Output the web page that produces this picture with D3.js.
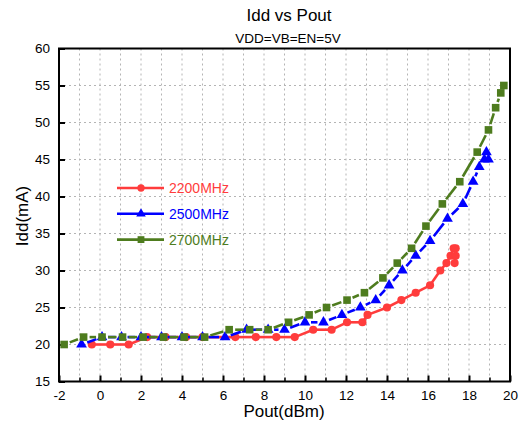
<!DOCTYPE html>
<html><head><meta charset="utf-8">
<script src="https://cdn.jsdelivr.net/npm/d3@7"></script>
<style>
body{margin:0;background:#fff;}
svg{display:block;font-family:"Liberation Sans",Arial,sans-serif;}
</style></head>
<body><svg id="c" width="521" height="427"></svg>
<script>
const title = "Idd vs Pout";
const subtitle = "VDD=VB=EN=5V";
const xLabel = "Pout(dBm)";
const yLabel = "Idd(mA)";
const seriesNames = ["2200MHz", "2500MHz", "2700MHz"];
const seriesColors = ["#ff3c3c", "#0000ff", "#4e7c1e"];
const xTickValues = [-2, 0, 2, 4, 6, 8, 10, 12, 14, 16, 18, 20];
const yTickValues = [15, 20, 25, 30, 35, 40, 45, 50, 55, 60];

const redX = [-0.4, 0.5, 1.4, 2.3, 3.2, 4.2, 5.0, 6.6, 7.6, 8.6, 9.5, 10.4, 11.3, 12.05, 12.8, 13.05, 14.0, 14.7, 15.4, 16.1, 16.6, 16.9, 17.1, 17.25, 17.35, 17.35, 17.3];
const redY = [20, 20, 20, 21, 21, 21, 21, 21, 21, 21, 21, 22, 22, 23, 23, 24, 25, 26, 27, 28, 30, 31, 32, 33, 33, 32, 31];
const blueX = [-0.9, 0.1, 1.05, 2.0, 3.0, 4.0, 5.0, 6.1, 7.15, 8.2, 9.0, 10.0, 10.9, 11.8, 12.7, 13.45, 14.1, 14.75, 15.4, 16.1, 16.95, 17.7, 18.2, 18.5, 18.75, 18.85, 18.95];
const blueY = [20, 21, 21, 21, 21, 21, 21, 21, 22, 22, 22, 23, 23, 24, 25, 26, 28, 30, 32, 34, 37, 39, 42, 44, 45, 46, 45];
const greenX = [-1.75, -0.8, 0.1, 1.1, 2.1, 3.1, 4.1, 5.1, 6.3, 7.3, 8.2, 9.2, 10.2, 11.05, 12.05, 12.9, 13.8, 14.5, 15.2, 15.9, 16.7, 17.55, 18.4, 18.95, 19.3, 19.55, 19.7];
const greenY = [20, 21, 21, 21, 21, 21, 21, 21, 22, 22, 22, 23, 24, 25, 26, 27, 29, 31, 33, 36, 39, 42, 46, 49, 52, 54, 55];

const svg = d3.select("#c");
const m = {l: 59, r: 510, t: 48.5, b: 381.5};
const x = d3.scaleLinear().domain([-2, 20]).range([m.l, m.r]);
const y = d3.scaleLinear().domain([15, 60]).range([m.b, m.t]);
const fmt = d => String(d);

// grid
const g = svg.append("g");
g.selectAll("line.vg").data(d3.range(-1, 20, 1)).join("line")
  .attr("x1", d => x(d)).attr("x2", d => x(d)).attr("y1", m.t).attr("y2", m.b)
  .attr("stroke", "#b4b4b4").attr("stroke-width", 1).attr("stroke-dasharray", "2,3");
g.selectAll("line.hg").data(d3.range(20, 60, 5)).join("line")
  .attr("x1", m.l).attr("x2", m.r).attr("y1", d => y(d)).attr("y2", d => y(d))
  .attr("stroke", "#b4b4b4").attr("stroke-width", 1).attr("stroke-dasharray", "2,3");

// axes
const xAxis = d3.axisBottom(x).tickValues(xTickValues).tickSize(-6).tickPadding(9).tickFormat(fmt);
const xa = svg.append("g").attr("transform", `translate(0,${m.b})`).call(xAxis);
const xMinor = d3.axisBottom(x).tickValues(d3.range(-1, 20, 2)).tickSize(-4).tickFormat("");
svg.append("g").attr("transform", `translate(0,${m.b})`).call(xMinor).call(s => s.select(".domain").remove())
  .selectAll("line").attr("stroke-width", 1.5);
const yAxis = d3.axisLeft(y).tickValues(yTickValues).tickSize(-6).tickPadding(9).tickFormat(fmt);
const ya = svg.append("g").attr("transform", `translate(${m.l},0)`).call(yAxis);
[xa, ya].forEach(a => {
  a.select(".domain").remove();
  a.selectAll("line").attr("stroke", "#000").attr("stroke-width", 2);
  a.selectAll("text").attr("font-size", 13.5).attr("fill", "#000")
    .attr("font-family", '"Liberation Sans",Arial,sans-serif');
});
svg.append("rect").attr("x", m.l).attr("y", m.t).attr("width", m.r - m.l).attr("height", m.b - m.t)
  .attr("fill", "none").attr("stroke", "#000").attr("stroke-width", 2);

// titles
svg.append("text").attr("x", 289).attr("y", 21).attr("text-anchor", "middle").attr("font-size", 17).text(title);
svg.append("text").attr("x", 288).attr("y", 43).attr("text-anchor", "middle").attr("font-size", 13.5).text(subtitle);
svg.append("text").attr("x", 284).attr("y", 417).attr("text-anchor", "middle").attr("font-size", 17).text(xLabel);
svg.append("text").attr("transform", "translate(28,216) rotate(-90)").attr("text-anchor", "middle").attr("font-size", 17).text(yLabel);

// series
const symbols = [d3.symbolCircle, d3.symbolTriangle, d3.symbolSquare];
const symSizes = [52, 50, 58];
const gaps = [0, 6, 6];
const allX = [redX, blueX, greenX], allY = [redY, blueY, greenY];
const plot = svg.append("g");
seriesNames.forEach((name, i) => {
  const pts = allX[i].map((v, j) => [x(v), y(allY[i][j])]);
  const gs = plot.append("g");
  for (let j = 0; j < pts.length - 1; j++) {
    const [x1, y1] = pts[j], [x2, y2] = pts[j + 1];
    const dx = x2 - x1, dy = y2 - y1, L = Math.hypot(dx, dy);
    const gp = gaps[i];
    if (L <= 2 * gp + 1) continue;
    const ux = dx / L, uy = dy / L;
    gs.append("line").attr("x1", x1 + ux * gp).attr("y1", y1 + uy * gp)
      .attr("x2", x2 - ux * gp).attr("y2", y2 - uy * gp)
      .attr("stroke", seriesColors[i]).attr("stroke-width", 2.6);
  }
  gs.selectAll("path.m").data(pts).join("path")
    .attr("transform", d => `translate(${d[0]},${d[1]})`)
    .attr("d", d3.symbol().type(symbols[i]).size(symSizes[i]))
    .attr("fill", seriesColors[i]);
});

// legend
const lg = svg.append("g");
seriesNames.forEach((name, i) => {
  const ly = 188 + i * 25.8;
  lg.append("line").attr("x1", 117).attr("x2", 164).attr("y1", ly).attr("y2", ly)
    .attr("stroke", seriesColors[i]).attr("stroke-width", 2.6);
  lg.append("path").attr("transform", `translate(141,${ly})`)
    .attr("d", d3.symbol().type(symbols[i]).size(symSizes[i] * 0.8)).attr("fill", seriesColors[i]);
  lg.append("text").attr("x", 169).attr("y", ly + 5).attr("font-size", 14).attr("fill", seriesColors[i]).text(name);
});
</script></body></html>
